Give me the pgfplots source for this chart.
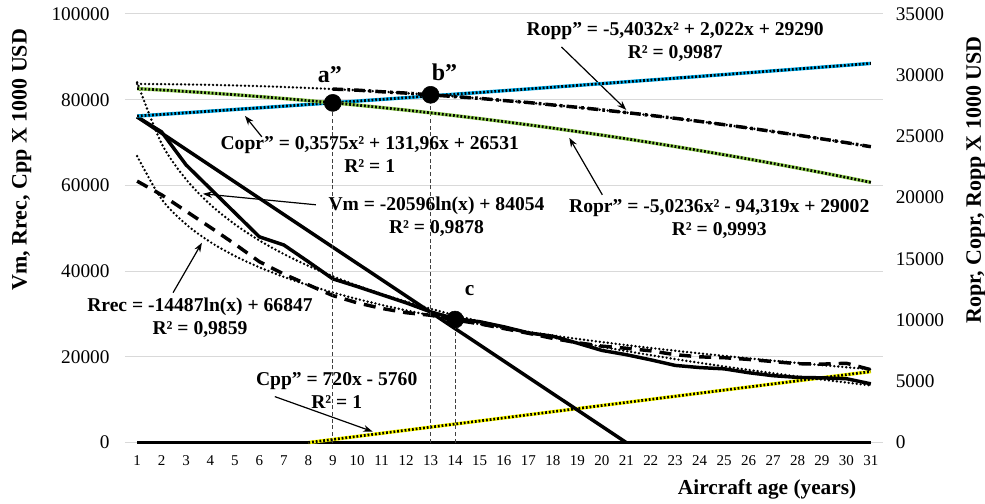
\documentclass[border=0pt]{standalone}
\usepackage{fontspec}
\setmainfont{Liberation Serif}
\usepackage{pgfplots}
\pgfplotsset{compat=1.18}
\usetikzlibrary{arrows.meta}
\definecolor{gridc}{HTML}{D9D9D9}
\definecolor{coprblue}{HTML}{00B0F0}
\definecolor{oprgreen}{HTML}{92D050}
\definecolor{cppyellow}{HTML}{FFFF00}
\tikzset{
  trenddot/.style={black, line width=2pt, dash pattern=on 0pt off 3pt, line cap=round},
  ovdot/.style={black, line width=2pt, dash pattern=on 1.4pt off 1.4pt},
  ann/.style={font=\bfseries\fontsize{14.7}{17.25}\selectfont, align=center, inner sep=0pt},
  arr/.style={black, line width=0.9pt, -{Stealth[length=7pt,width=5pt]}},
  vdash/.style={black!75, line width=0.75pt, dash pattern=on 3pt off 2pt},
}
\begin{document}
\begin{tikzpicture}
\pgfplotsset{
  common/.style={
    scale only axis, width=569.25pt, height=321.75pt,
    xmin=0.5, xmax=31.5,
    axis line style={draw=none}, major tick length=0pt,
    /pgf/number format/assume math mode=true,
    /pgf/number format/fixed,
    /pgf/number format/precision=0,
    /pgf/number format/1000 sep={},
    scaled y ticks=false, clip=false,
  }
}
% ---------------- left axis ----------------
\begin{axis}[common,
  ymin=0, ymax=100000,
  xtick={1,...,31}, ytick={0,20000,...,100000},
  ymajorgrids, grid style={gridc, line width=0.75pt},
  yticklabel style={font=\fontsize{14.5}{16}\selectfont, xshift=-8pt},
  xticklabel style={font=\fontsize{11.25}{13}\selectfont, yshift=-6pt},
  ylabel={Vm, Rrec, Cpp X 1000 USD},
  ylabel style={at={(axis description cs:-0.136,0.66)}, anchor=center, font=\bfseries\fontsize{16.5}{19}\selectfont},
]
% zero line
\addplot[black, line width=2.6pt] coordinates {(1,0)(31,0)};
% Cpp
\addplot[cppyellow, line width=2.6pt] coordinates {
(8,0)(9,720)(10,1440)(11,2160)(12,2880)(13,3600)(14,4320)(15,5040)(16,5760)(17,6480)(18,7200)(19,7920)(20,8640)(21,9360)(22,10080)(23,10800)(24,11520)(25,12240)(26,12960)(27,13680)(28,14400)(29,15120)(30,15840)(31,16560)};
\addplot[ovdot] coordinates {
(8,0)(9,720)(10,1440)(11,2160)(12,2880)(13,3600)(14,4320)(15,5040)(16,5760)(17,6480)(18,7200)(19,7920)(20,8640)(21,9360)(22,10080)(23,10800)(24,11520)(25,12240)(26,12960)(27,13680)(28,14400)(29,15120)(30,15840)(31,16560)};
% straight line to zero
\addplot[black, line width=2.6pt] coordinates {
(1,76000)(2,72200)(3,68400)(4,64600)(5,60800)(6,57000)(7,53200)(8,49400)(9,45600)(10,41800)(11,38000)(12,34200)(13,30400)(14,26600)(15,22800)(16,19000)(17,15200)(18,11400)(19,7600)(20,3800)(21,0)};
% Vm data
\addplot[black, line width=2.6pt] coordinates {
(1,76000)(2,72500)(3,64800)(4,59200)(5,53600)(6,48000)(7,46100)(8,42200)(9,38200)(10,36400)(11,34500)(12,32600)(13,30500)(14,28900)(15,28200)(16,27000)(17,25600)(18,24800)(19,23200)(20,21500)(21,20500)(22,19300)(23,18000)(24,17500)(25,17200)(26,16300)(27,15600)(28,15200)(29,15100)(30,14900)(31,13700)};
% Vm trend
\addplot[trenddot, smooth] coordinates {
(1,84054)(2,69778)(3,61427)(4,55501)(5,50907)(6,47150)(7,43976)(8,41227)(9,38801)(10,36630)(11,34667)(12,32875)(13,31227)(14,29699)(15,28278)(16,26949)(17,25701)(18,24523)(19,23410)(20,22354)(21,21349)(22,20391)(23,19475)(24,18597)(25,17757)(26,16950)(27,16173)(28,15424)(29,14701)(30,14003)(31,13327)};
% Rrec data
\addplot[black, line width=2.6pt, dash pattern=on 9pt off 6pt] coordinates {
(1,61000)(2,57800)(3,54000)(4,50200)(5,46300)(6,42200)(7,39300)(8,36800)(9,34300)(10,32600)(11,31300)(12,30300)(13,29700)(14,28600)(15,27700)(16,26600)(17,25500)(18,24300)(19,23300)(20,22500)(21,22000)(22,21400)(23,20500)(24,20000)(25,19800)(26,19400)(27,18900)(28,18400)(29,18300)(30,18500)(31,17000)};
% Rrec trend
\addplot[trenddot, smooth] coordinates {
(1,66847)(2,56806)(3,50932)(4,46764)(5,43531)(6,40889)(7,38657)(8,36723)(9,35016)(10,33489)(11,32108)(12,30848)(13,29689)(14,28615)(15,27615)(16,26680)(17,25802)(18,24974)(19,24191)(20,23447)(21,22741)(22,22067)(23,21422)(24,20806)(25,20215)(26,19647)(27,19101)(28,18573)(29,18065)(30,17574)(31,17099)};
% vertical guides
\addplot[vdash] coordinates {(9,0)(9,79250)};
\addplot[vdash] coordinates {(13,0)(13,81100)};
\addplot[vdash] coordinates {(14,0)(14,28700)};
% point c
\addplot[only marks, mark=*, mark size=6.4pt, black] coordinates {(14,28700)};
% labels
\node[font=\bfseries\fontsize{18}{20}\selectfont] at (axis cs:8.88,85780) {a”};
\node[font=\bfseries\fontsize{18}{20}\selectfont] at (axis cs:13.57,86480) {b”};
\node[font=\bfseries\fontsize{16}{18}\selectfont] at (axis cs:14.59,35430) {c};
\node[ann] at (axis cs:10.51,67130) {Copr” = 0,3575x² + 131,96x + 26531\\R² = 1};
\draw[arr] (axis cs:6.10,71330) -- (axis cs:5.41,76220);
\node[ann] at (axis cs:13.24,52680) {Vm = -20596ln(x) + 84054\\R² = 0,9878};
\draw[arr] (axis cs:8.31,55480) -- (axis cs:3.69,58040);
\node[ann] at (axis cs:24.80,52210) {Ropr” = -5,0236x² - 94,319x + 29002\\R² = 0,9993};
\draw[arr] (axis cs:20.02,57810) -- (axis cs:18.67,71100);
\node[ann] at (axis cs:23.0,93470) {Ropp” = -5,4032x² + 2,022x + 29290\\R² = 0,9987};
\draw[arr] (axis cs:18.35,92310) -- (axis cs:21.0,77620);
\node[ann] at (axis cs:3.57,29140) {Rrec = -14487ln(x) + 66847\\R² = 0,9859};
\draw[arr] (axis cs:2.47,34970) -- (axis cs:3.65,46620);
\node[ann] at (axis cs:9.16,12120) {Cpp” = 720x - 5760\\R² = 1};
\draw[arr] (axis cs:6.63,10720) -- (axis cs:10.63,2560);
\node[font=\bfseries\fontsize{16}{18}\selectfont] at (axis description cs:0.847,-0.11) {Aircraft age (years)};
\end{axis}
% ---------------- right axis ----------------
\begin{axis}[common,
  ymin=0, ymax=35000,
  axis x line=none, axis y line*=right,
  ytick={0,5000,...,35000},
  yticklabel style={font=\fontsize{14.5}{16}\selectfont, xshift=6pt},
  ylabel={Ropr, Copr, Ropp X 1000 USD},
  ylabel style={at={(axis description cs:1.1225,0.613)}, anchor=center, font=\bfseries\fontsize{16.5}{19}\selectfont},
]
% Copr
\addplot[coprblue, line width=2.6pt] coordinates {
(1,26663)(2,26796)(3,26930)(4,27065)(5,27200)(6,27336)(7,27472)(8,27610)(9,27748)(10,27886)(11,28026)(12,28166)(13,28307)(14,28449)(15,28591)(16,28734)(17,28878)(18,29022)(19,29167)(20,29313)(21,29460)(22,29607)(23,29755)(24,29904)(25,30053)(26,30204)(27,30355)(28,30506)(29,30659)(30,30812)(31,30965)};
\addplot[ovdot] coordinates {
(1,26663)(2,26796)(3,26930)(4,27065)(5,27200)(6,27336)(7,27472)(8,27610)(9,27748)(10,27886)(11,28026)(12,28166)(13,28307)(14,28449)(15,28591)(16,28734)(17,28878)(18,29022)(19,29167)(20,29313)(21,29460)(22,29607)(23,29755)(24,29904)(25,30053)(26,30204)(27,30355)(28,30506)(29,30659)(30,30812)(31,30965)};
% Ropr
\addplot[oprgreen, line width=2.6pt] coordinates {
(1,28903)(2,28793)(3,28674)(4,28544)(5,28405)(6,28255)(7,28096)(8,27926)(9,27746)(10,27557)(11,27357)(12,27147)(13,26927)(14,26697)(15,26457)(16,26207)(17,25947)(18,25677)(19,25396)(20,25106)(21,24806)(22,24496)(23,24175)(24,23845)(25,23504)(26,23154)(27,22793)(28,22423)(29,22042)(30,21651)(31,21250)};
\addplot[ovdot] coordinates {
(1,28903)(2,28793)(3,28674)(4,28544)(5,28405)(6,28255)(7,28096)(8,27926)(9,27746)(10,27557)(11,27357)(12,27147)(13,26927)(14,26697)(15,26457)(16,26207)(17,25947)(18,25677)(19,25396)(20,25106)(21,24806)(22,24496)(23,24175)(24,23845)(25,23504)(26,23154)(27,22793)(28,22423)(29,22042)(30,21651)(31,21250)};
% Ropp trend
\addplot[trenddot] coordinates {
(1,29287)(2,29272)(3,29247)(4,29212)(5,29165)(6,29108)(7,29039)(8,28960)(9,28871)(10,28770)(11,28659)(12,28536)(13,28403)(14,28259)(15,28105)(16,27939)(17,27763)(18,27576)(19,27378)(20,27169)(21,26950)(22,26719)(23,26478)(24,26226)(25,25964)(26,25690)(27,25406)(28,25111)(29,24805)(30,24488)(31,24160)};
% Ropp data
\addplot[black, line width=2.6pt, dash pattern=on 8pt off 3pt on 2pt off 3pt] coordinates {
(9,28870)(10,28780)(11,28650)(12,28540)(13,28400)(14,28250)(15,28110)(16,27930)(17,27770)(18,27570)(19,27380)(20,27170)(21,26950)(22,26720)(23,26480)(24,26230)(25,25960)(26,25690)(27,25400)(28,25110)(29,24800)(30,24490)(31,24160)};
% points a'', b''
\addplot[only marks, mark=*, mark size=6.4pt, black] coordinates {(9,27740)(13,28400)};
\end{axis}
\pgfresetboundingbox
\path (-93.75pt,-45.75pt) rectangle (645.75pt,332.25pt);
\end{tikzpicture}
\end{document}
